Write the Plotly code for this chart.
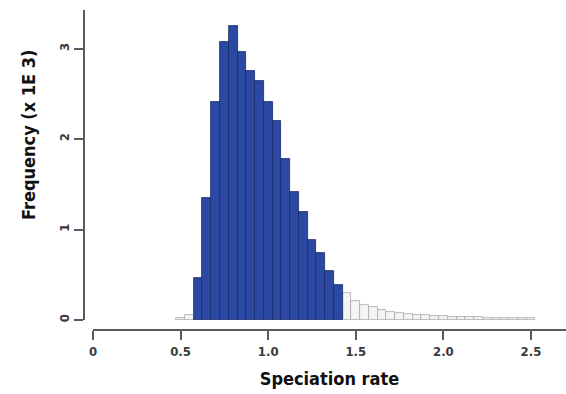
import plotly.graph_objects as go

# ---- data (frequency in thousands) ----
bin_width = 0.05
blue_centers = [0.60, 0.65, 0.70, 0.75, 0.80, 0.85, 0.90, 0.95, 1.00, 1.05,
                1.10, 1.15, 1.20, 1.25, 1.30, 1.35, 1.40]
blue_freq = [0.47, 1.35, 2.41, 3.08, 3.25, 2.97, 2.76, 2.64, 2.41, 2.20,
             1.78, 1.42, 1.20, 0.88, 0.74, 0.54, 0.39]

gray_centers = [0.50, 0.55,
                1.45, 1.50, 1.55, 1.60, 1.65, 1.70, 1.75, 1.80, 1.85, 1.90, 1.95,
                2.00, 2.05, 2.10, 2.15, 2.20, 2.25, 2.30, 2.35, 2.40, 2.45, 2.50]
gray_freq = [0.02, 0.06,
             0.30, 0.21, 0.17, 0.14, 0.11, 0.09, 0.074, 0.063, 0.055, 0.050, 0.045,
             0.040, 0.036, 0.033, 0.030, 0.028, 0.026, 0.024, 0.022, 0.020, 0.019, 0.018]

x_tickvals = [0, 0.5, 1.0, 1.5, 2.0, 2.5]
x_ticktext = ["0", "0.5", "1.0", "1.5", "2.0", "2.5"]
y_tickvals = [0, 1, 2, 3]
y_ticktext = ["0", "1", "2", "3"]

FONT = "DejaVu Sans Condensed, DejaVu Sans, sans-serif"
AXCOL = "#5a5a5a"

fig = go.Figure()
fig.add_trace(go.Bar(
    x=gray_centers, y=gray_freq, width=bin_width,
    marker=dict(color="#f4f4f4", line=dict(color="#a8a8a8", width=0.8)),
    showlegend=False))
fig.add_trace(go.Bar(
    x=blue_centers, y=blue_freq, width=bin_width,
    marker=dict(color="#2b49a3", line=dict(color="#1a2a6a", width=0.8)),
    showlegend=False))

fig.update_layout(
    width=566, height=394,
    margin=dict(l=80, r=0, t=10, b=64),
    paper_bgcolor="white", plot_bgcolor="white",
    barmode="overlay", bargap=0,
    font=dict(family=FONT, color="#222"),
    xaxis=dict(
        domain=[13 / 486, 1], range=[0, 2.7], anchor="free", position=0,
        showline=True, linecolor=AXCOL, linewidth=2,
        ticks="outside", ticklen=9, tickwidth=2, tickcolor=AXCOL,
        tickvals=x_tickvals, ticktext=["<b>%s</b>" % t for t in x_ticktext],
        tickfont=dict(size=13, family=FONT, color="#3a3a3a"),
        showgrid=False, zeroline=False,
        title=dict(text="<b>Speciation rate</b>", font=dict(size=18, family=FONT, color="#111"),
                   standoff=14),
    ),
    yaxis=dict(
        domain=[10 / 320, 1], range=[0, 3.43], anchor="free", position=4 / 486,
        showline=True, linecolor=AXCOL, linewidth=2,
        ticks="outside", ticklen=9, tickwidth=2, tickcolor=AXCOL,
        tickvals=y_tickvals, ticktext=["<b>%s</b>" % t for t in y_ticktext], tickangle=-90,
        tickfont=dict(size=13, family=FONT, color="#3a3a3a"),
        showgrid=False, zeroline=False,
    ),
    annotations=[dict(
        text="<b>Frequency (x 1E 3)</b>", textangle=-90,
        xref="paper", yref="paper", x=(28 - 80) / 486, y=(330 - 135) / 320,
        xanchor="center", yanchor="middle", showarrow=False,
        font=dict(size=18, family=FONT, color="#111"))],
)

fig.write_html("out.html")
